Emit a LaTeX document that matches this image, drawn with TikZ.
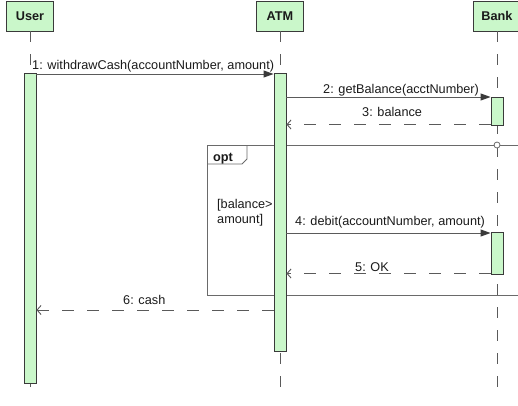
\documentclass[tikz,border=0pt]{standalone}
\usepackage{fontspec}
\setmainfont{Liberation Sans}
\usetikzlibrary{arrows.meta}
\definecolor{lifefill}{HTML}{CAF7CA}
\definecolor{boxline}{HTML}{3A3A3A}
\definecolor{lineg}{HTML}{5A5A5A}
\definecolor{frameg}{HTML}{6A6A6A}
\definecolor{textc}{HTML}{1A1A1A}
\begin{document}
\begin{tikzpicture}[x=1pt,y=-1pt,
  head/.style={draw=boxline, fill=lifefill, line width=0.9pt, inner sep=0pt,
    minimum width=47pt, minimum height=30pt, text=textc,
    font=\fontsize{12.7}{14}\selectfont\bfseries},
  bar/.style={draw=boxline, fill=lifefill, line width=0.9pt, inner sep=0pt,
    minimum width=12pt},
  lifeline/.style={draw=lineg, line width=0.9pt, dash pattern=on 11pt off 12pt},
  call/.style={draw=lineg, line width=0.9pt,
    -{Triangle[length=10pt,width=7pt,fill=boxline,color=boxline]}},
  reply/.style={draw=lineg, line width=0.9pt, dash pattern=on 12pt off 13pt,
    -{Straight Barb[length=4pt,width=9pt,color=lineg]}},
  lbl/.style={font=\fontsize{12.7}{14}\selectfont, inner sep=0pt,
    anchor=base west, text=textc},
  frameline/.style={draw=frameg, line width=0.9pt},
]
\useasboundingbox (0,0) rectangle (518,405);
\clip (0,0) rectangle (518,405);

% combined fragment "opt"
\draw[frameline] (207,145) rectangle (540,295);
\draw[frameline] (207,164) -- (242,164) -- (247,159) -- (247,145);
\node[lbl, font=\fontsize{12.7}{14}\selectfont\bfseries] (optlbl) at (213,161) {opt};
\node[lbl] (guard1) at (217,208) {[balance>};
\node[lbl] (guard2) at (217,223) {amount]};

% lifeline heads
\node[head] (user) at (30,16) {User};
\node[head] (atm)  at (280,16) {ATM};
\node[head] (bank) at (497,16) {Bank};

% lifelines
\coordinate (bottom) at (0,397);
\draw[lifeline] (user.south) -- (user.south |- bottom);
\draw[lifeline] (atm.south) -- (atm.south |- bottom);
\draw[lifeline] (bank.south) -- (bank.south |- bottom);

% guard marker on the fragment border
\node[circle, draw=frameg, fill=white, line width=0.8pt, minimum size=6pt,
  inner sep=0pt] (gate) at (497,145) {};

% activation bars
\node[bar, minimum height=310pt] (ubar)  at (30,228) {};
\node[bar, minimum height=278pt] (abar)  at (280,212) {};
\node[bar, minimum height=28pt]  (bbar1) at (497,111) {};
\node[bar, minimum height=42pt]  (bbar2) at (497,253) {};

% message levels
\coordinate (y1) at (0,74);
\coordinate (y2) at (0,97);
\coordinate (y3) at (0,124.5);
\coordinate (y4) at (0,233);
\coordinate (y5) at (0,273.5);
\coordinate (y6) at (0,310);

% messages
\draw[call]  (ubar.east |- y1)  -- (abar.west |- y1);
\draw[call]  (abar.east |- y2)  -- (bbar1.west |- y2);
\draw[reply] (bbar1.west |- y3) -- (abar.east |- y3);
\draw[call]  (abar.east |- y4)  -- (bbar2.west |- y4);
\draw[reply] (bbar2.west |- y5) -- (abar.east |- y5);
\draw[reply] (abar.west |- y6)  -- (ubar.east |- y6);

% message labels
\node[lbl] (t1) at (32,69)  {1: withdrawCash(accountNumber, amount)};
\node[lbl] (t2) at (323,93) {2: getBalance(acctNumber)};
\node[lbl] (t3) at (362,116) {3: balance};
\node[lbl] (t4) at (295,225) {4: debit(accountNumber, amount)};
\node[lbl] (t5) at (355,271) {5: OK};
\node[lbl] (t6) at (123,304) {6: cash};
\end{tikzpicture}
\end{document}
